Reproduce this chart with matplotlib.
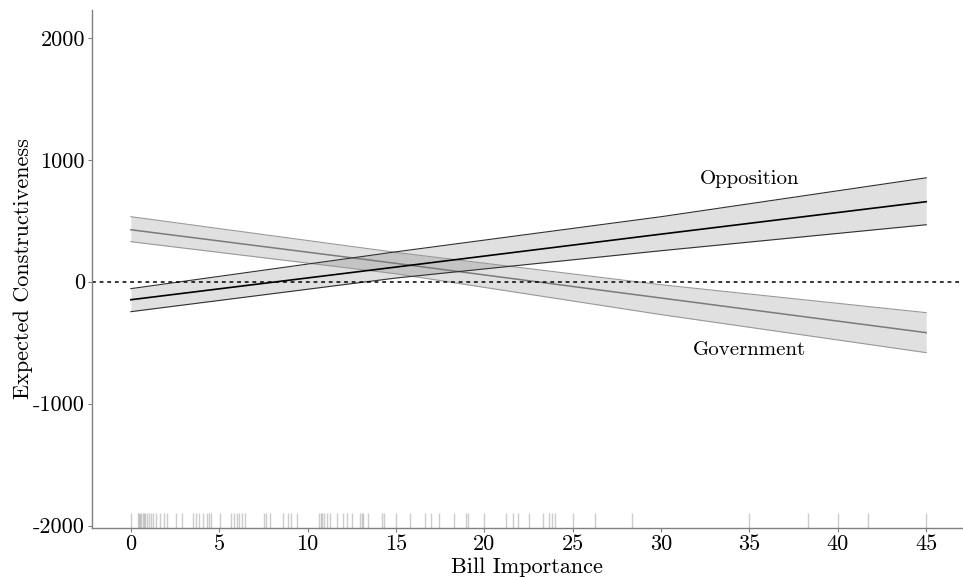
import numpy as np
import matplotlib
matplotlib.use("Agg")
import matplotlib.pyplot as plt

plt.rcParams["font.family"] = "serif"
plt.rcParams["font.serif"] = ["cmr10", "DejaVu Serif"]
plt.rcParams["mathtext.fontset"] = "cm"
plt.rcParams["axes.unicode_minus"] = False

# predicted constructiveness over bill importance, with 95% bands
importance = [0, 15, 30, 45]

opp_fit = [-148, 120, 390, 656]
opp_lo = [-246, 30, 254, 467]
opp_hi = [-57, 245, 533, 852]

gov_fit = [426, 150, -134, -418]
gov_lo = [328, 65, -270, -582]
gov_hi = [533, 240, -25, -254]

# observed bill importance values (rug)
rug = [0.02, 0.38, 0.45, 0.51, 0.59, 0.66, 0.74, 0.81, 0.89, 1.0, 1.13, 1.27,
       1.44, 1.66, 1.87, 2.06, 2.55, 2.89, 3.53, 3.68, 3.87, 4.06, 4.32, 4.42,
       4.53, 5.04, 5.67, 5.85, 5.99, 6.14, 6.29, 6.48, 7.52, 7.63, 7.88, 8.59,
       8.88, 9.08, 9.42, 10.63, 10.75, 10.84, 10.95, 11.07, 11.27, 11.69,
       12.03, 12.22, 12.54, 12.99, 13.07, 13.16, 13.39, 14.2, 14.3, 15.01,
       15.79, 16.64, 16.97, 17.46, 18.29, 18.98, 19.08, 20.0, 21.24, 21.61,
       21.93, 22.5, 23.32, 23.68, 23.81, 23.97, 25.0, 26.27, 28.35, 34.98,
       38.34, 40.01, 41.68, 45.0]

xticks = [0, 5, 10, 15, 20, 25, 30, 35, 40, 45]
yticks = [-2000, -1000, 0, 1000, 2000]

fig = plt.figure(figsize=(9.63, 5.77), dpi=100)
ax = fig.add_axes([0.0955, 0.085, 0.903, 0.898])

ymin = -2020
ax.set_xlim(-2.2, 47.0)
ax.set_ylim(ymin, 2230)

# government band and line
ax.fill_between(importance, gov_lo, gov_hi, color="black", alpha=0.12, lw=0)
ax.plot(importance, gov_lo, color="#999999", lw=0.8)
ax.plot(importance, gov_hi, color="#999999", lw=0.8)
ax.plot(importance, gov_fit, color="#7a7a7a", lw=1.1)

# opposition band and line
ax.fill_between(importance, opp_lo, opp_hi, color="black", alpha=0.12, lw=0)
ax.plot(importance, opp_lo, color="#303030", lw=0.8)
ax.plot(importance, opp_hi, color="#303030", lw=0.8)
ax.plot(importance, opp_fit, color="black", lw=1.2)

ax.axhline(0, color="black", lw=1.1, ls=(0, (2.5, 2.5)))

ax.vlines(rug, ymin, ymin + 125, color="#909090", lw=1.0, alpha=0.45)

ax.text(35.0, 840, "Opposition", ha="center", va="center", fontsize=15)
ax.text(35.0, -560, "Government", ha="center", va="center", fontsize=15)

ax.set_xticks(xticks)
ax.set_xticklabels([str(v) for v in xticks])
ax.set_yticks(yticks)
ax.set_yticklabels([str(v) for v in yticks])
ax.tick_params(labelsize=16, color="#808080", length=3, width=0.8, pad=2)

ax.set_xlabel("Bill Importance", fontsize=16, labelpad=2)
ax.set_ylabel("Expected Constructiveness", fontsize=16, labelpad=0)

for side in ["top", "right"]:
    ax.spines[side].set_visible(False)
for side in ["left", "bottom"]:
    ax.spines[side].set_color("#808080")
    ax.spines[side].set_linewidth(1.0)

fig.savefig("out.png", dpi=100)
